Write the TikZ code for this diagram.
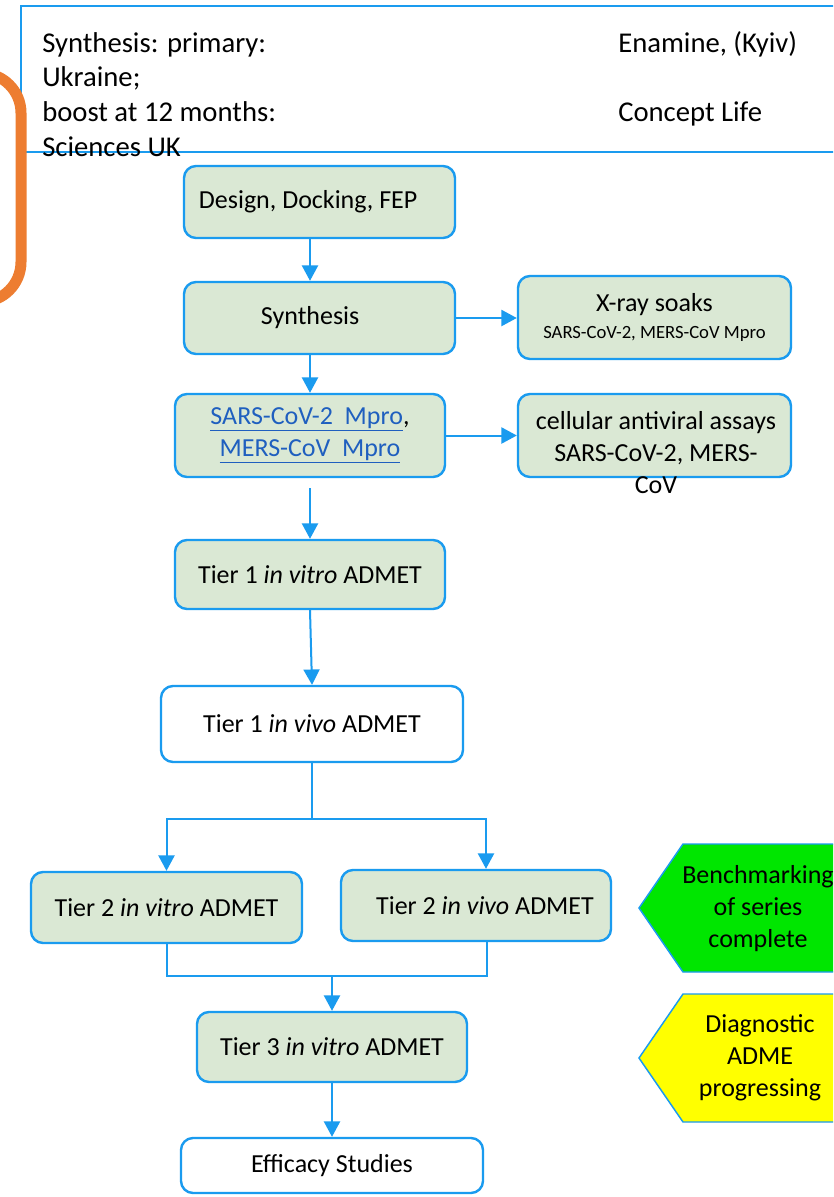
\documentclass[tikz,border=0pt]{standalone}
\usepackage{fontspec}
\setmainfont{Carlito}
\usetikzlibrary{arrows.meta,calc}
\definecolor{bl}{HTML}{1A9BEF}
\definecolor{gf}{HTML}{DAE8D4}
\definecolor{lk}{HTML}{1F5FBF}
\definecolor{org}{HTML}{ED7D31}
\definecolor{grn}{HTML}{00E600}
\definecolor{yel}{HTML}{FFFF00}
\begin{document}
\begin{tikzpicture}[x=0.75pt,y=-0.75pt,
  box/.style={draw=bl,line width=1.8pt,rounded corners=9pt,fill=gf,align=center,
    font=\fontsize{19.5}{24}\selectfont,inner sep=0pt},
  wbox/.style={box,fill=white},
  arr/.style={draw=bl,line width=1.5pt,-{Triangle[length=11.5pt,width=12pt]}},
  ln/.style={draw=bl,line width=1.5pt},
  tagshape/.style={draw=bl,line width=1.1pt},
  tagtext/.style={font=\fontsize{19.5}{24}\selectfont,align=center,inner sep=0pt},
  toptext/.style={font=\fontsize{21.5}{26}\selectfont,inner sep=0pt,anchor=base west}]
\useasboundingbox (0,0) rectangle (833,1197);
\begin{scope}
\clip (0,0) rectangle (833,1197);
\fill[white] (0,0) rectangle (833,1197);
% top text box
\draw[bl,line width=1.5pt] (21,6) rectangle (860,152);
\node[toptext] (t1) at (42,52) {Synthesis: primary:};
\node[toptext] (t2) at (42,86) {Ukraine;};
\node[toptext] (t3) at (42,121) {boost at 12 months:};
\node[toptext] (t4) at (42,156) {Sciences UK};
\node[toptext] (t5) at (618,52) {Enamine, (Kyiv)};
\node[toptext] (t6) at (618,121) {Concept Life};
% orange bracket
\draw[org,line width=8.25pt,rounded corners=30pt] (-100,73) rectangle (21,302);
% boxes
\node[box,minimum width=203.25pt,minimum height=54pt] (design) at (319.5,202) {\hspace*{-17pt}Design, Docking, FEP};
\node[box,minimum width=203.25pt,minimum height=54pt] (synth) at (319.5,318) {\hspace*{-14pt}Synthesis};
\node[box,minimum width=204.75pt,minimum height=62.25pt] (xray) at (654.5,317.5)
  {X-ray soaks\\[-4pt]{\fontsize{14}{16}\selectfont SARS-CoV-2, MERS-CoV Mpro}};
\node[box,minimum width=202.5pt,minimum height=62.25pt] (sars) at (310,435.5)
  {\textcolor{lk}{\underline{SARS-CoV-2\ \ Mpro}},\\\textcolor{lk}{\underline{MERS-CoV\ \ Mpro}}};
\node[box,minimum width=204.75pt,minimum height=62.25pt] (cell) at (654.5,435.5) {};
\node[tagtext] (celltext) at (656,453) {cellular antiviral assays\\SARS-CoV-2, MERS-\\CoV};
\node[box,minimum width=202.5pt,minimum height=51.75pt] (tv1) at (310,574.5) {Tier 1 \textit{in vitro} ADMET};
\node[wbox,minimum width=226.5pt,minimum height=57pt] (tvv1) at (312,724) {Tier 1 \textit{in vivo} ADMET};
\node[box,minimum width=203.25pt,minimum height=53.25pt] (t2a) at (166.5,907.5) {Tier 2 \textit{in vitro} ADMET};
\node[box,minimum width=202.5pt,minimum height=53.25pt] (t2b) at (476,905.5) {\hspace*{13.5pt}Tier 2 \textit{in vivo} ADMET};
\node[box,minimum width=202.5pt,minimum height=52.5pt] (t3) at (332,1047) {Tier 3 \textit{in vitro} ADMET};
\node[wbox,minimum width=226.5pt,minimum height=41.25pt] (eff) at (332,1165.5) {Efficacy Studies};
% connectors
\draw[arr] (design.south -| sars.center) -- (synth.north -| sars.center);
\draw[arr] (synth.east) -- (xray.west |- synth.east);
\draw[arr] (synth.south -| sars.center) -- (sars.north);
\draw[arr] (sars.east) -- (cell.west |- sars.east);
\draw[arr,shorten <=7.5pt] (sars.south) -- (tv1.north);
\draw[arr] (tv1.south) -- (tvv1.north);
\coordinate (j1) at ($(tvv1.south)+(0,56)$);
\coordinate (t2bt) at ($(t2b.north)+(10,0)$);
\coordinate (t2bb) at ($(t2b.south)+(11,0)$);
\coordinate (j2) at ($(t3.north)+(0,-35)$);
\draw[ln] (tvv1.south) -- (j1);
\draw[arr] (j1) -| (t2a.north);
\draw[arr] (j1) -| (t2bt);
\draw[ln] (t2a.south) |- (j2) -| (t2bb);
\draw[arr] (j2) -- (t3.north);
\draw[arr] (t3.south) -- (eff.north);
% status tags
\draw[tagshape,fill=grn] (639,908) -- (683,844) -- (860,844) -- (860,972) -- (683,972) -- cycle;
\node[tagtext] (bench) at (758,909) {Benchmarking\\of series\\complete};
\draw[tagshape,fill=yel] (639,1058) -- (683,994) -- (860,994) -- (860,1122) -- (683,1122) -- cycle;
\node[tagtext] (diag) at (760,1058) {Diagnostic\\ADME\\progressing};
\end{scope}
\end{tikzpicture}
\end{document}
